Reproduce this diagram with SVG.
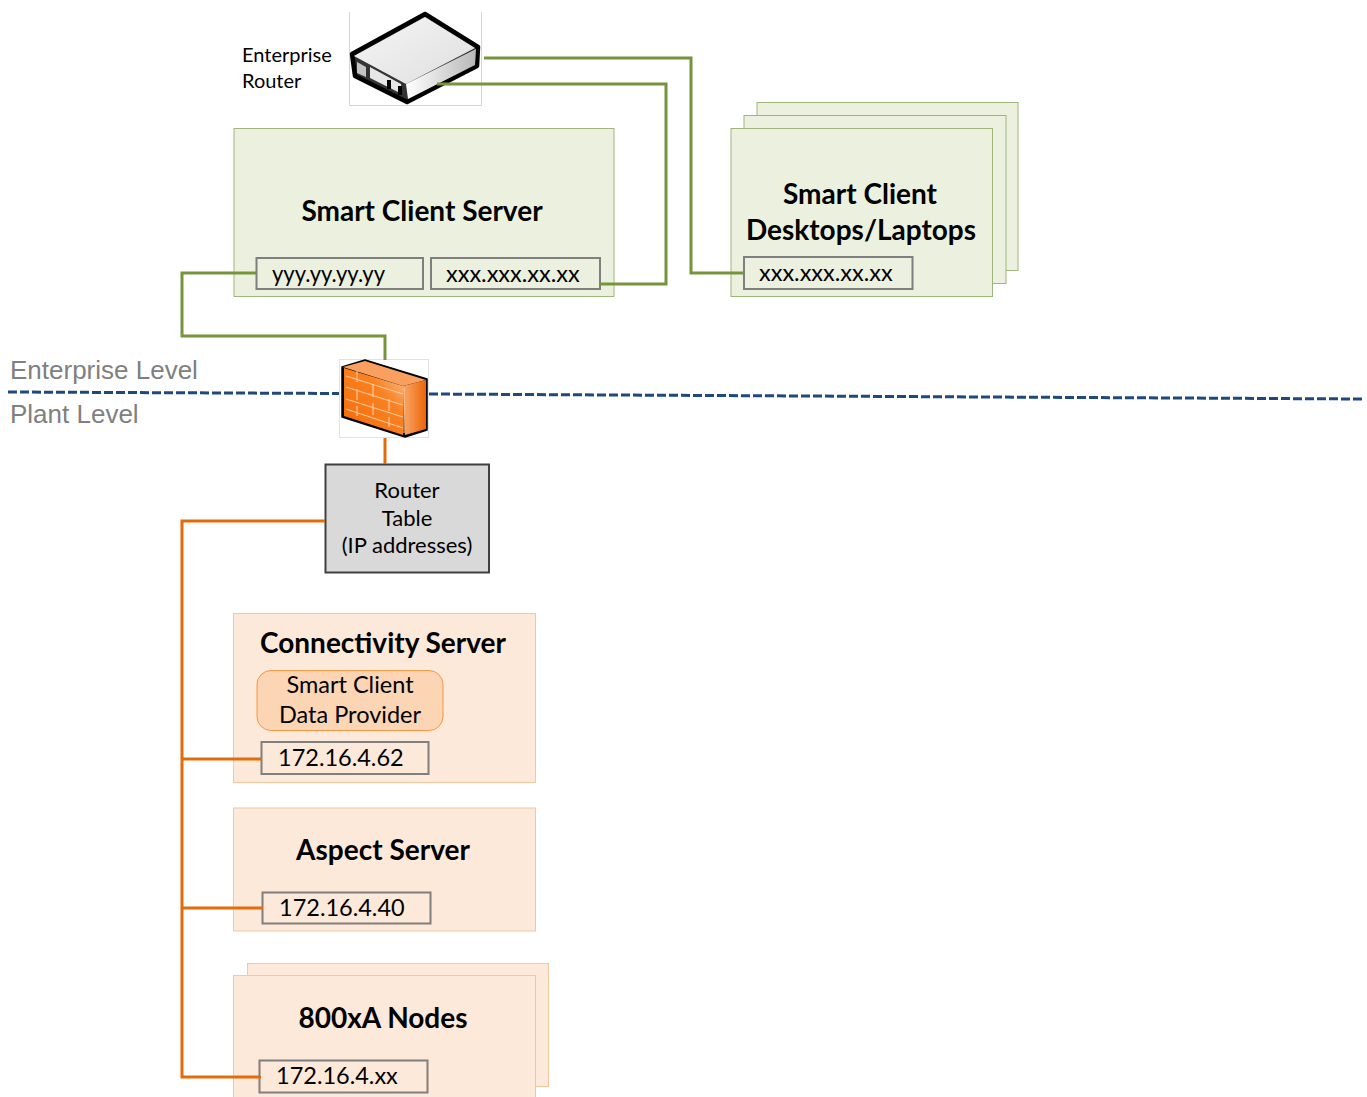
<svg xmlns="http://www.w3.org/2000/svg" width="1367" height="1097" viewBox="0 0 1367 1097">
<defs>
<linearGradient id="top" x1="0" y1="0" x2="1" y2="1"><stop offset="0" stop-color="#f6f6f6"/><stop offset="1" stop-color="#dedede"/></linearGradient>
<linearGradient id="side" x1="0" y1="0" x2="1" y2="0"><stop offset="0" stop-color="#ffffff"/><stop offset="1" stop-color="#b8b8b8"/></linearGradient>
<linearGradient id="brick" x1="0" y1="1" x2="1" y2="0"><stop offset="0" stop-color="#f56a05"/><stop offset="0.65" stop-color="#fa8222"/><stop offset="1" stop-color="#f7c699"/></linearGradient>
<linearGradient id="wallside" x1="0" y1="0" x2="1" y2="0"><stop offset="0" stop-color="#f9a868"/><stop offset="1" stop-color="#ec6508"/></linearGradient>
</defs>
<style>
text{font-family:Lato,"Open Sans","DejaVu Sans",sans-serif;fill:#000}
.g{fill:#ebf1de;stroke:#a0b57c;stroke-width:1}
.o{fill:#fde9d9;stroke:#f4c7a0;stroke-width:1}
.ip{stroke:#7f7f7f;stroke-width:2}
.gl{fill:none;stroke:#77933c;stroke-width:3}
.ol{fill:none;stroke:#e36c0a;stroke-width:3}
.t{font-size:28px;font-weight:700;text-anchor:middle}
.i{font-size:23.500px}
.s{font-size:20px}
.r{font-size:22px;text-anchor:middle}
.lv{font-family:"Liberation Sans",Arial,sans-serif;font-size:26px;fill:#808080}
</style>
<g id="level-line"><path d="M8 392L340 393.500M429 394L1362 399" fill="none" stroke="#1f497d" stroke-width="3" stroke-dasharray="9 3"/></g>
<text class="lv" x="10" y="379">Enterprise Level</text>
<text class="lv" x="10" y="423">Plant Level</text>
<g id="smart-client-desktops">
<rect class="g" x="757" y="102.500" width="261" height="168"/>
<rect class="g" x="744" y="115.500" width="262" height="168"/>
<rect class="g" x="731" y="128.500" width="261.500" height="168"/>
<text class="t" x="860" y="204">Smart Client</text>
<text class="t" x="861" y="240">Desktops/Laptops</text>
<rect class="ip" x="744" y="257" width="168.500" height="32" fill="#ebf1de"/>
<text class="i" x="759" y="281">xxx.xxx.xx.xx</text>
</g>
<g id="smart-client-server">
<rect class="g" x="234" y="128.500" width="380" height="168"/>
<text class="t" x="422" y="221">Smart Client Server</text>
<rect class="ip" x="256.500" y="258" width="166.500" height="31" fill="#ebf1de"/>
<text class="i" x="272" y="282" textLength="113" lengthAdjust="spacingAndGlyphs">yyy.yy.yy.yy</text>
<rect class="ip" x="431" y="258" width="169" height="31" fill="#ebf1de"/>
<text class="i" x="446" y="282">xxx.xxx.xx.xx</text>
</g>
<g id="enterprise-router">
<path d="M349.500 12V105.500H481.500V12" fill="#fff" stroke="#d4d4d4" stroke-width="1"/>
<path d="M352 54L425 14L478 47L477 66L407 102L355 76Z" fill="#333" stroke="#000" stroke-width="4.500" stroke-linejoin="round"/>
<path d="M354 56L425 17L475 48L406 84Z" fill="url(#top)"/>
<path d="M406 84L476 49L475 65L408 99Z" fill="url(#side)"/>
<path d="M370 67L401 84L402 94L370 78Z" fill="#e6e6e6"/>
<path d="M357 62L366 67V77L357 73Z" fill="#c4c4c4"/>
<path d="M389 80V89M400 86V95" stroke="#000" stroke-width="4"/>
<text class="s" x="242" y="62">Enterprise</text>
<text class="s" x="242" y="88">Router</text>
</g>
<g id="firewall">
<rect x="339.500" y="359.500" width="89" height="78" fill="#fff" stroke="#e2e2e2" stroke-width="1"/>
<path d="M342 367L365 360L427 379V430L405 437L342 417Z" fill="#000" stroke="#000" stroke-width="1.500" stroke-linejoin="round"/>
<path d="M343 367L365 361L426 380L403 386Z" fill="#f9a060"/>
<path d="M344 368L403 386V435L344 416Z" fill="url(#brick)"/>
<path d="M403 386L426 380V429L405 435Z" fill="url(#wallside)"/>
<path d="M346 376L403 394M346 387L403 405M346 399L403 417M346 409L403 428M357 371V382M373 385V397M357 389V400M373 403V415M357 406V416M389 399V411M389 417V427M404 388V433" fill="none" stroke="#fbc79c" stroke-width="1.200"/>
</g>
<g id="router-table">
<rect x="325.500" y="464.500" width="163.500" height="108" fill="#d9d9d9" stroke="#404040" stroke-width="2"/>
<text class="r" x="407" y="498">Router</text>
<text class="r" x="407" y="526">Table</text>
<text class="r" x="407" y="553">(IP addresses)</text>
</g>
<g id="connectivity-server">
<rect class="o" x="233.500" y="613.500" width="302" height="169"/>
<text class="t" x="383" y="653">Connectivity Server</text>
<rect x="257" y="670.500" width="186" height="60" rx="14" fill="#fcd5b4" stroke="#f79646" stroke-width="1"/>
<text class="i" x="350" y="693" text-anchor="middle">Smart Client</text>
<text class="i" x="350" y="723" text-anchor="middle">Data Provider</text>
<rect class="ip" x="261.500" y="742" width="167" height="32" fill="#fde9d9"/>
<text class="i" x="278" y="766">172.16.4.62</text>
</g>
<g id="aspect-server">
<rect class="o" x="233.500" y="808" width="302" height="123"/>
<text class="t" x="383" y="860">Aspect Server</text>
<rect class="ip" x="262.500" y="892.500" width="168" height="31" fill="#fde9d9"/>
<text class="i" x="279" y="916">172.16.4.40</text>
</g>
<g id="nodes-800xa">
<rect class="o" x="247.500" y="963.500" width="301" height="123"/>
<rect class="o" x="233.500" y="975.500" width="302" height="125"/>
<text class="t" x="383" y="1028">800xA Nodes</text>
<rect class="ip" x="259.500" y="1060.500" width="168" height="32" fill="#fde9d9"/>
<text class="i" x="276" y="1084">172.16.4.xx</text>
</g>
<g id="connectors">
<path class="gl" d="M484 58H691V273H744"/>
<path class="gl" d="M437 84H666V284H600"/>
<path class="gl" d="M256 273H182V336H385V360"/>
<path class="ol" d="M385 438V464"/>
<path class="ol" d="M325 521H182V1077H261"/>
<path class="ol" d="M182 759H262"/>
<path class="ol" d="M182 908H263"/>
</g>
</svg>
